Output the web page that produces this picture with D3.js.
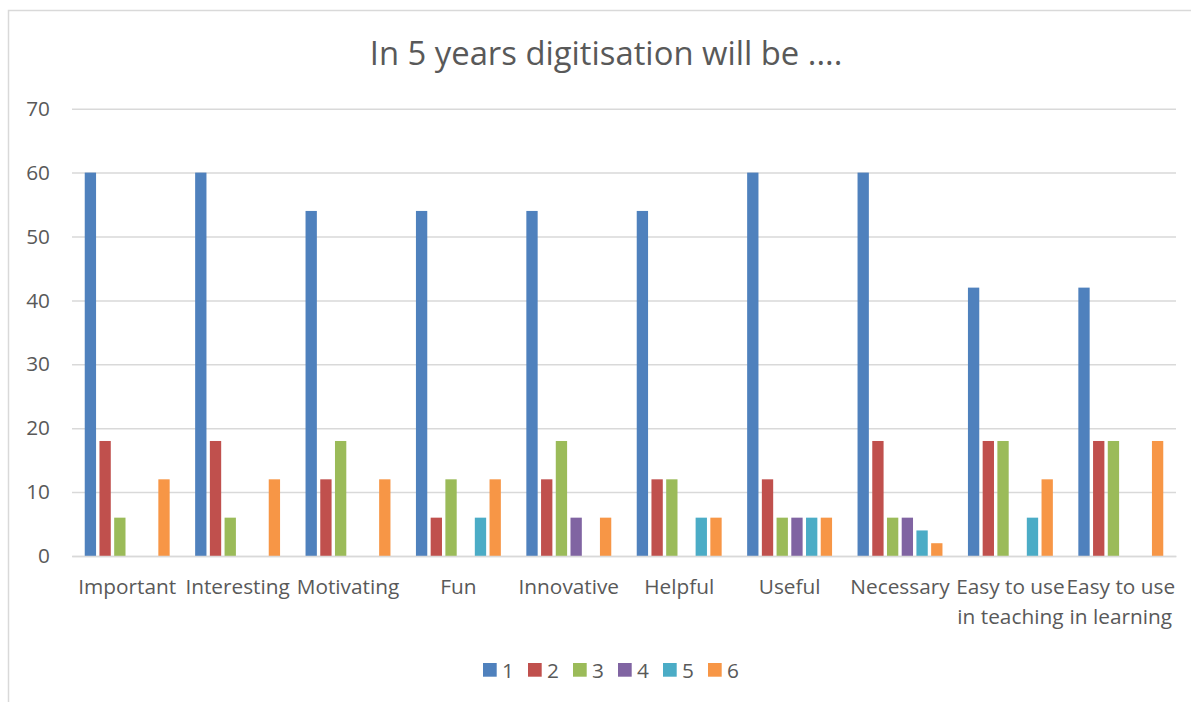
<!DOCTYPE html>
<html>
<head>
<meta charset="utf-8">
<script src="https://cdn.jsdelivr.net/npm/d3@7"></script>
<style>
  html, body { margin: 0; padding: 0; background: #fff; }
  svg { display: block; font-family: "Open Sans", Lato, sans-serif; }
</style>
</head>
<body>
<svg id="chart" width="1191" height="702"></svg>
<script>
// Survey answers per statement, one array per rating (1..6)
const categories = [
  ["Important"], ["Interesting"], ["Motivating"], ["Fun"], ["Innovative"],
  ["Helpful"], ["Useful"], ["Necessary"],
  ["Easy to use", "in teaching"], ["Easy to use", "in learning"]
];
const seriesNames = ["1", "2", "3", "4", "5", "6"];
const s1 = [60, 60, 54, 54, 54, 54, 60, 60, 42, 42];
const s2 = [18, 18, 12, 6, 12, 12, 12, 18, 18, 18];
const s3 = [6, 6, 18, 12, 18, 12, 6, 6, 18, 18];
const s4 = [0, 0, 0, 0, 6, 0, 6, 6, 0, 0];
const s5 = [0, 0, 0, 6, 0, 6, 6, 4, 6, 0];
const s6 = [12, 12, 12, 12, 6, 6, 6, 2, 12, 18];
const yTicks = [0, 10, 20, 30, 40, 50, 60, 70];
const colors = ["#4F81BD", "#C0504D", "#9BBB59", "#8064A2", "#4BACC6", "#F79646"];
const titleText = "In 5 years digitisation will be ....";

const allSeries = [s1, s2, s3, s4, s5, s6];
const svg = d3.select("#chart");
const W = 1191, H = 702;
const plot = { left: 72, right: 1176, top: 108.7, bottom: 556 };
const textColor = "#595959";
const gridColor = "#D9D9D9";
const font = "'Open Sans', Lato, sans-serif";
const labelSize = 20.8;

// chart frame
svg.append("rect")
  .attr("x", 8.5).attr("y", 10.5)
  .attr("width", W + 10).attr("height", H + 10)
  .attr("fill", "#fff").attr("stroke", gridColor).attr("stroke-width", 1.5);

const x0 = d3.scaleBand()
  .domain(categories.map((c, i) => i))
  .range([plot.left, plot.right])
  .paddingInner(0).paddingOuter(0);

const outer = x0.bandwidth() * 0.1;
const x1 = d3.scaleBand()
  .domain(seriesNames)
  .range([outer, x0.bandwidth() - outer])
  .paddingInner(0).paddingOuter(0);

const y = d3.scaleLinear().domain([0, 70]).range([plot.bottom, plot.top]);

// horizontal grid + value labels
const yAxis = d3.axisLeft(y).tickValues(yTicks).tickSize(-(plot.right - plot.left)).tickPadding(22);
const gy = svg.append("g").attr("transform", `translate(${plot.left},0)`).call(yAxis);
gy.select(".domain").remove();
gy.selectAll(".tick line").attr("stroke", gridColor).attr("stroke-width", 1.5);
gy.selectAll(".tick text")
  .attr("fill", textColor).attr("font-size", labelSize)
  .attr("font-family", font);

// bars
const gap = 3.4;
const groups = svg.append("g").selectAll("g")
  .data(categories.map((c, i) => i))
  .join("g")
  .attr("transform", i => `translate(${x0(i)},0)`);

groups.selectAll("rect")
  .data(i => seriesNames.map((name, k) => ({ name, k, v: allSeries[k][i] })))
  .join("rect")
  .filter(d => d.v > 0)
  .attr("x", d => x1(d.name) + gap / 2)
  .attr("width", x1.bandwidth() - gap)
  .attr("y", d => y(d.v))
  .attr("height", d => y(0) - y(d.v))
  .attr("fill", d => colors[d.k]);

// category axis
const xAxis = d3.axisBottom(x0).tickSize(0).tickFormat(() => "");
const gx = svg.append("g").attr("transform", `translate(0,${plot.bottom})`).call(xAxis);
gx.select(".domain").attr("stroke", gridColor).attr("stroke-width", 1.5);

gx.selectAll(".tick text").remove();
gx.selectAll(".tick").append("text")
  .attr("text-anchor", "middle")
  .attr("fill", textColor)
  .attr("font-size", labelSize)
  .attr("font-family", font)
  .each(function (i) {
    const t = d3.select(this);
    categories[i].forEach((line, j) => {
      t.append("tspan").attr("x", 0).attr("y", 38 + j * 30).text(line);
    });
  });

// title
svg.append("text")
  .attr("x", 606).attr("y", 65)
  .attr("text-anchor", "middle")
  .attr("fill", textColor)
  .attr("font-size", 32.8)
  .attr("font-family", font)
  .text(titleText);

// legend
const legend = svg.append("g").attr("transform", "translate(483,663)");
const li = legend.selectAll("g").data(seriesNames).join("g")
  .attr("transform", (d, k) => `translate(${k * 45},0)`);
li.append("rect").attr("width", 13.7).attr("height", 13.7).attr("fill", (d, k) => colors[k]);
li.append("text")
  .attr("x", 19).attr("y", 14.5)
  .attr("fill", textColor).attr("font-size", labelSize)
  .attr("font-family", font)
  .text(d => d);
</script>
</body>
</html>
